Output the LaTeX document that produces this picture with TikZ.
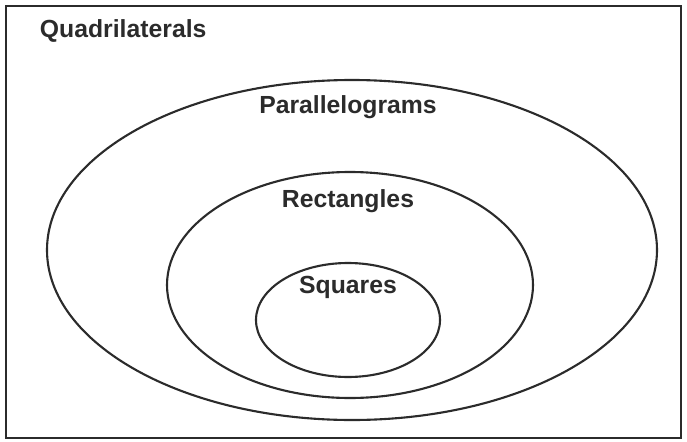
\documentclass[tikz,border=0pt]{standalone}
\usepackage{fontspec}
\setmainfont{Liberation Sans}
\usepackage{tikz}
\usetikzlibrary{shapes.geometric}

\definecolor{inkgray}{HTML}{2B2B2B}

\tikzset{
  setshape/.style={ellipse, draw=inkgray, line width=1.5pt, inner sep=0pt},
  setlabel/.style={anchor=base, text=inkgray, font=\fontsize{17.6}{20}\selectfont\bfseries}
}

\begin{document}
\begin{tikzpicture}[x=0.025cm, y=-0.025cm]
  \useasboundingbox (0,0) rectangle (687,442);

  % Frame for all quadrilaterals
  \draw[inkgray, line width=1.5pt] (6,6) rectangle (681,438);
  \node[setlabel, anchor=base west] (quad) at (35,37) {Quadrilaterals};

  % Nested sets
  \node[setshape, minimum width=610*0.025cm, minimum height=340*0.025cm] (para) at (352,250) {};
  \node[setshape, minimum width=366*0.025cm, minimum height=226*0.025cm] (rect) at (350,285) {};
  \node[setshape, minimum width=184*0.025cm, minimum height=114*0.025cm] (squa) at (348,320) {};

  % Set names
  \node[setlabel] (paralabel) at (348,113) {Parallelograms};
  \node[setlabel] (rectlabel) at (348,207) {Rectangles};
  \node[setlabel] (squalabel) at (348,293) {Squares};
\end{tikzpicture}
\end{document}
